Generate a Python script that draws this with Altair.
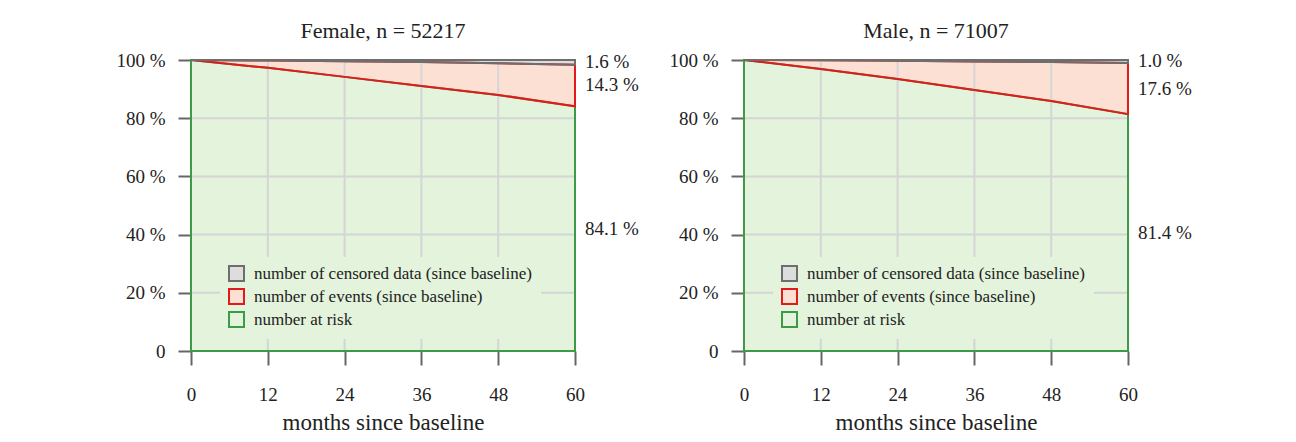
import altair as alt
import pandas as pd

FONT = "Liberation Serif"
TEXT_COLOR = "#222222"

months = [0, 12, 24, 36, 48, 60]
x_ticks = [0, 12, 24, 36, 48, 60]
y_ticks = [0, 20, 40, 60, 80, 100]

panel_titles = ["Female, n = 52217", "Male, n = 71007"]
# cumulative percentages (since baseline)
female_events = [0.0, 2.5, 5.4, 8.2, 10.9, 14.3]
female_censored = [0.0, 0.2, 0.4, 0.7, 1.1, 1.6]
male_events = [0.0, 3.0, 6.2, 9.8, 13.4, 17.6]
male_censored = [0.0, 0.1, 0.3, 0.5, 0.7, 1.0]

series_names = [
    "number of censored data (since baseline)",
    "number of events (since baseline)",
    "number at risk",
]
fill_colors = ["#dddddd", "#fde0d4", "#e3f3dc"]
stroke_colors = ["#6e6e6e", "#e31a1c", "#3d9b47"]
grid_color = "#d5d5d5"


def build_bands(events, censored):
    rows = []
    for m, ev, ce in zip(months, events, censored):
        risk = 100 - ev - ce
        rows.append({"month": m, "series": series_names[2], "lo": 0.0, "hi": risk})
        rows.append({"month": m, "series": series_names[1], "lo": risk, "hi": 100 - ce})
        rows.append({"month": m, "series": series_names[0], "lo": 100 - ce, "hi": 100.0})
    return pd.DataFrame(rows)


def build_labels(events, censored):
    ev, ce = events[-1], censored[-1]
    risk = 100 - ev - ce
    return pd.DataFrame({
        "month": [months[-1]] * 3,
        "pos": [100 - ce / 2, risk + ev / 2, risk / 2],
        "text": [f"{ce:.1f} %", f"{ev:.1f} %", f"{risk:.1f} %"],
    })


xscale = alt.Scale(domain=[months[0], months[-1]], nice=False, zero=False)
yscale = alt.Scale(domain=[0, 100], nice=False)

xaxis = alt.Axis(values=x_ticks, grid=False, domain=False, tickSize=14, tickColor="#666666",
                 tickWidth=2, labelFont=FONT, labelFontSize=19, labelColor=TEXT_COLOR,
                 labelPadding=20, labelFlush=False, title="months since baseline",
                 titleFont=FONT, titleFontSize=23, titleFontWeight="normal",
                 titleColor=TEXT_COLOR, titlePadding=7)
yaxis = alt.Axis(values=y_ticks, grid=False, domain=False, tickSize=13, tickColor="#666666",
                 tickWidth=2, labelFont=FONT, labelFontSize=19, labelColor=TEXT_COLOR,
                 labelPadding=13, labelFlush=False, title=None,
                 labelExpr="datum.value == 0 ? '0' : datum.value + ' %'")


def legend():
    return alt.Legend(title=None, orient="none", legendX=29, legendY=197,
                      symbolType="square", symbolSize=225, symbolStrokeWidth=2,
                      labelFont=FONT, labelFontSize=17, labelColor=TEXT_COLOR,
                      labelLimit=0, fillColor=fill_colors[2], padding=8, rowPadding=0,
                      labelOffset=9)


def panel(title, events, censored):
    bands = build_bands(events, censored)
    labels = build_labels(events, censored)

    fills = alt.Chart(bands).mark_area(strokeWidth=0, interpolate="linear").encode(
        x=alt.X("month:Q", scale=xscale, axis=xaxis),
        y=alt.Y("hi:Q", scale=yscale, axis=yaxis, stack=None),
        y2="lo:Q",
        fill=alt.Fill("series:N", scale=alt.Scale(domain=series_names, range=fill_colors),
                      legend=legend()),
        stroke=alt.Stroke("series:N", scale=alt.Scale(domain=series_names, range=stroke_colors),
                          legend=legend()),
    )

    vgrid = alt.Chart(pd.DataFrame({"month": x_ticks[1:-1]})).mark_rule(
        color=grid_color, strokeWidth=2).encode(x=alt.X("month:Q", scale=xscale))
    hgrid = alt.Chart(pd.DataFrame({"pct": y_ticks[1:-1]})).mark_rule(
        color=grid_color, strokeWidth=2).encode(y=alt.Y("pct:Q", scale=yscale))

    outlines = []
    for name, col in zip([series_names[2], series_names[1], series_names[0]],
                         [stroke_colors[2], stroke_colors[1], stroke_colors[0]]):
        outlines.append(
            alt.Chart(bands[bands["series"] == name]).mark_area(
                fillOpacity=0, stroke=col, strokeWidth=2, interpolate="linear").encode(
                x=alt.X("month:Q", scale=xscale),
                y=alt.Y("hi:Q", scale=yscale, stack=None),
                y2="lo:Q",
            )
        )

    text = alt.Chart(labels).mark_text(align="left", baseline="middle", dx=10,
                                       font=FONT, fontSize=19, color=TEXT_COLOR).encode(
        x=alt.X("month:Q", scale=xscale),
        y=alt.Y("pos:Q", scale=yscale),
        text="text:N",
    )

    return alt.layer(fills, vgrid, hgrid, *outlines, text).properties(
        width=384, height=291,
        title=alt.TitleParams(title, font=FONT, fontSize=22, fontWeight="normal",
                              color=TEXT_COLOR, offset=8, frame="group", anchor="middle"),
    )


left = panel(panel_titles[0], female_events, female_censored)
right = panel(panel_titles[1], male_events, male_censored)

chart = alt.hconcat(left, right, spacing=169, bounds="flush").resolve_scale(
    fill="independent", stroke="independent"
).resolve_legend(
    fill="independent", stroke="independent"
).properties(
    padding={"left": 107, "top": 12, "right": 0, "bottom": 0},
    background="white",
).configure_view(strokeWidth=0)

chart.save("out.html", embed_options={"renderer": "svg", "actions": False})
